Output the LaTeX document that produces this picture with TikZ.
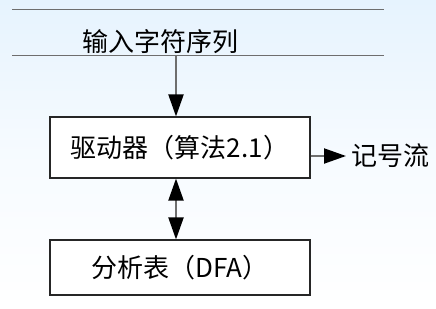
\documentclass[tikz,border=0pt]{standalone}
\usepackage{fontspec}
\setmainfont{Noto Sans CJK SC}
\usetikzlibrary{arrows.meta}
\definecolor{skytop}{HTML}{E6F3FE}
\definecolor{rulegray}{HTML}{6E6E6E}
\tikzset{
  stage/.style={draw=black!85, line width=1.1pt, fill=white, minimum width=260pt, inner sep=0pt, font=\fontsize{26}{26}\selectfont},
  link/.style={draw=rulegray, line width=2pt, -{Triangle[length=22pt,width=15pt,color=black]}},
  biglink/.style={draw=rulegray, line width=2pt, {Triangle[length=22pt,width=15pt,color=black]}-{Triangle[length=22pt,width=15pt,color=black]}},
  rule/.style={draw=rulegray, line width=1.6pt},
  label/.style={font=\fontsize{26}{26}\selectfont, inner sep=0pt}
}
\begin{document}
\begin{tikzpicture}[x=1pt,y=-1pt]
  \useasboundingbox (0,0) rectangle (436,308);
  \shade[top color=skytop, bottom color=white, middle color=skytop!35] (0,0) rectangle (436,308);
  % input tape
  \coordinate (tl) at (12,9.5);
  \coordinate (tr) at (384,9.5);
  \coordinate (bl) at (12,55.5);
  \coordinate (br) at (384,55.5);
  \draw[rule] (tl) -- (tr);
  \draw[rule] (bl) -- (br);
  \node[label] (input) at (160,42) {输入字符序列};
  \coordinate (tap) at (176,55.5);
  % boxes
  \node[stage, minimum height=61pt] (driver) at (180,147.5) {驱动器（算法2.1）};
  \node[stage, minimum height=55pt] (table) at (180,267.5) {分析表（DFA）};
  \node[label, anchor=west] (tokens) at (351,156) {记号流};
  \draw[link] (tap) -- (tap |- driver.north);
  \draw[biglink] (tap |- driver.south) -- (tap |- table.north);
  \draw[link, shorten >=5pt] (driver.east |- tokens.west) -- (tokens.west);
\end{tikzpicture}
\end{document}
